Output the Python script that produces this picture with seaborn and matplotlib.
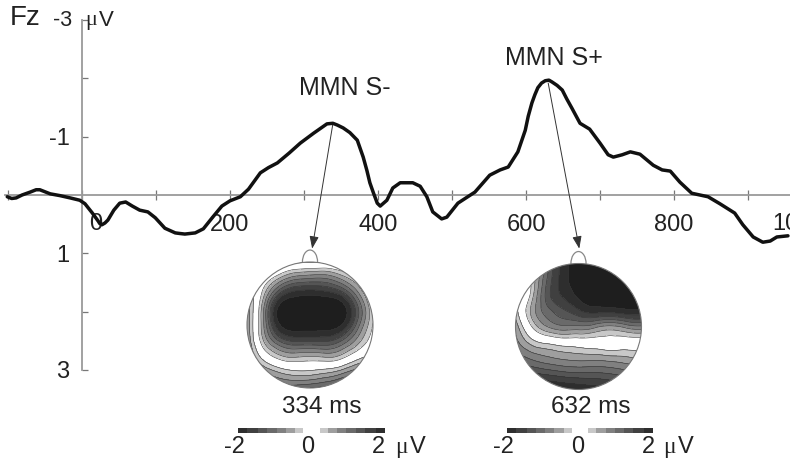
import numpy as np
import matplotlib
matplotlib.use("Agg")
import matplotlib.pyplot as plt
import matplotlib.tri as mtri
from matplotlib.colors import ListedColormap, BoundaryNorm
from matplotlib.patches import Circle, Ellipse
from matplotlib.transforms import Affine2D
import seaborn as sns

# ERP trace at Fz
time_ms = [-101,-95,-89,-81,-70,-62,-57,-43,-30,-16,-3,4,14,22,24,27,31,35,43,51,59,68,78,89,99,112,126,132,139,146,153,164,176,189,200,
           214,225,241,252,264,280,295,313,331,339,345,353,362,372,380,385,389,394,399,403,412,420,430,447,457,466,474,486,493,508,531,551,565,576,589,599,
           603,608,612,616,621,626,631,635,642,649,655,662,673,686,700,711,718,730,741,754,772,784,795,808,824,846,862,882,893,907,920,930,939,954]
amp_uv = [0.03,0.06,0.05,0,-0.05,-0.09,-0.09,-0.02,0.01,0.05,0.09,0.15,0.31,0.45,0.49,0.51,0.48,0.43,0.26,0.14,0.12,0.19,0.26,0.29,0.39,0.57,0.65,0.66,0.67,0.66,0.65,0.58,0.39,0.19,0.10,
          0.03,-0.10,-0.38,-0.47,-0.55,-0.72,-0.89,-1.06,-1.22,-1.23,-1.20,-1.15,-1.07,-0.94,-0.65,-0.42,-0.21,-0.03,0.14,0.19,0.09,-0.12,-0.21,-0.21,-0.15,0.03,0.29,0.41,0.38,0.14,-0.05,-0.34,-0.43,-0.48,-0.74,-1.11,
          -1.35,-1.58,-1.72,-1.84,-1.92,-1.96,-1.97,-1.94,-1.88,-1.80,-1.65,-1.49,-1.23,-1.13,-0.89,-0.69,-0.65,-0.69,-0.74,-0.70,-0.51,-0.43,-0.41,-0.22,-0.03,0.03,0.15,0.31,0.51,0.72,0.81,0.79,0.72,0.70]

x_ticks = [-100,0,100,200,300,400,500,600,700,800,900]
x_tick_labels = ["","","","200","","400","","600","","800",""]
y_ticks = [-3,-2,-1,1,2,3]
y_tick_labels = ["","","-1","1","","3"]

# Scalp maps: values in uV, rows front to back, columns left to right
grid_pos = [-1,-.75,-.5,-.25,0,.25,.5,.75,1]
map_334 = [[.6,.5,.4,.3,.25,.25,.25,.3,.3],
           [.5,.1,-.4,-.8,-.9,-.9,-.6,-.2,.2],
           [.5,-.3,-1.4,-1.9,-2.0,-1.9,-1.6,-.8,.05],
           [.6,-.6,-2.2,-2.6,-2.7,-2.7,-2.4,-1.3,-.2],
           [.6,-.6,-2.0,-2.4,-2.4,-2.4,-2.1,-1.1,-.2],
           [.7,-.4,-1.2,-1.5,-1.5,-1.5,-1.2,-.6,-.05],
           [.8,.1,-.35,-.5,-.45,-.5,-.35,.05,.3],
           [1,.7,.45,.3,.3,.4,.6,.9,1.0],
           [1.3,1.2,1.1,1.1,1.2,1.3,1.5,1.6,1.6]]
map_632 = [[.4,.1,-1.2,-1.9,-2.5,-2.7,-2.7,-2.7,-2.7],
           [.4,-.2,-1.2,-1.9,-2.4,-2.6,-2.7,-2.7,-2.7],
           [.4,-.3,-1.3,-1.8,-2.2,-2.4,-2.5,-2.6,-2.6],
           [.35,-.5,-1.1,-1.4,-1.7,-1.9,-1.9,-2.0,-2.0],
           [.6,-.2,-.7,-.9,-.9,-.8,-.65,-.8,-.9],
           [.8,.35,.15,.03,.0,-.03,-.05,-.02,-.02],
           [1.1,.9,.75,.65,.6,.6,.55,.5,.4],
           [1.6,1.5,1.4,1.3,1.25,1.25,1.2,1.1,1.0],
           [2.3,2.3,2.2,2.1,2.0,1.9,1.8,1.7,1.5]]
levels = [-5,-2.1,-1.75,-1.45,-1.2,-.95,-.7,-.45,-.22,.22,.45,.7,.95,1.2,1.45,1.75,2.1,5]
grays = ["#1e1e1e","#2e2e2e","#404040","#555555","#6a6a6a","#808080","#9e9e9e","#c8c8c8","#ffffff",
         "#c8c8c8","#9e9e9e","#808080","#6a6a6a","#555555","#404040","#2e2e2e","#1e1e1e"]

W, H = 790, 463
X0, PX_MS, Y0, PX_UV = 82, 0.74, 195, 58.3
INK = "#222222"
AXIS = "#9a9a9a"

sns.set_theme(style="white")
plt.rcParams["font.family"] = ["Liberation Sans", "DejaVu Sans"]

fig = plt.figure(figsize=(W / 100, H / 100), dpi=100, facecolor="white")
ax = fig.add_axes([0, 0, 1, 1], facecolor="none")
ax.set_xlim((0 - X0) / PX_MS, (W - X0) / PX_MS)
ax.set_ylim((H - Y0) / PX_UV, (0 - Y0) / PX_UV)

for side in ("top", "right"):
    ax.spines[side].set_visible(False)
ax.spines["left"].set_position(("data", 0))
ax.spines["bottom"].set_position(("data", 0))
ax.spines["left"].set_bounds(-3, 3)
ax.spines["bottom"].set_bounds((5 - X0) / PX_MS, (W - X0) / PX_MS)
for side in ("left", "bottom"):
    ax.spines[side].set_color(AXIS)
    ax.spines[side].set_linewidth(1.3)

ax.set_xticks(x_ticks, x_tick_labels)
ax.set_yticks(y_ticks, y_tick_labels)
ax.tick_params(axis="x", direction="inout", length=7, width=0.9, color="#777777",
               labelsize=17, labelcolor=INK, pad=10, bottom=True)
ax.tick_params(axis="y", direction="in", length=4, width=0.9, color="#777777",
               labelsize=17, labelcolor=INK, pad=9, left=True)

sns.lineplot(x=time_ms, y=amp_uv, color="#111111", linewidth=2.5, ax=ax, zorder=4, sort=False)
ax.lines[0].set_solid_joinstyle("round")
ax.set_xlabel("")
ax.set_ylabel("")

px = Affine2D().scale(1, -1).translate(0, H)


def label(x, y, s, size=17, ha="center", family=None, color=INK):
    kw = {"family": family} if family else {}
    ax.text(x, y, s, transform=px, fontsize=size, ha=ha, va="center", color=color, clip_on=False, **kw)


def micro_volt(x, y, size=16):
    label(x, y, "\u03bc", size=size, ha="left", family="Liberation Serif")
    label(x + size * 0.85, y - 1, "V", size=size, ha="left")


label(10, 18, "Fz", size=20, ha="left")
label(53, 21, "-3", size=15.5, ha="left")
micro_volt(85, 21)
label(96, 224, "0")
label(772, 224, "1000", ha="left")
label(345, 88, "MMN S-", size=18)
label(554, 58, "MMN S+", size=18)
label(322, 407, "334 ms", size=17.5)
label(591, 407, "632 ms", size=17.5)

for start, end in [((339, -1.22), (311, 0.92)), ((630, -1.92), (672, 0.92))]:
    ax.annotate("", xy=end, xytext=start, zorder=3,
                arrowprops=dict(arrowstyle="-|>,head_length=0.75,head_width=0.28", color="#333333",
                                lw=0.7, mutation_scale=10, shrinkA=0, shrinkB=0))

cmap = ListedColormap(grays)
norm = BoundaryNorm(levels, cmap.N)


def scalp(cx, cy, r, values):
    pad = 1.25
    a = fig.add_axes([(cx - pad * r) / W, 1 - (cy + pad * r) / H, 2 * pad * r / W, 2 * pad * r / H])
    a.set_xlim(-pad, pad)
    a.set_ylim(-pad, pad)
    a.axis("off")
    gx, gy = np.meshgrid(grid_pos, grid_pos[::-1])
    tri = mtri.Triangulation(gx.ravel(), gy.ravel())
    z = np.array(values, float).ravel()
    fine_tri, fine_z = mtri.UniformTriRefiner(tri).refine_field(z, mtri.CubicTriInterpolator(tri, z), subdiv=4)
    head = Circle((0, 0), 1, transform=a.transData, fc="none", ec="#777777", lw=0.8, zorder=5)
    a.add_patch(head)
    filled = a.tricontourf(fine_tri, fine_z, levels=levels, cmap=cmap, norm=norm)
    filled.set_clip_path(head)
    lines = a.tricontour(fine_tri, fine_z, levels=levels[1:-1], colors="#333333", linewidths=0.4,
                         linestyles="solid")
    lines.set_clip_path(head)
    a.add_patch(Ellipse((0, 1.0), 0.24, 0.38, fc="white", ec="#888888", lw=0.9, zorder=0))


def color_bar(x0, x1, y, h=5):
    a = fig.add_axes([x0 / W, 1 - (y + h / 2) / H, (x1 - x0) / W, h / H])
    edges = np.clip(levels, -2, 2)
    a.pcolormesh(edges, [0, 1], [np.arange(len(grays))], cmap=cmap, vmin=-0.5, vmax=len(grays) - 0.5)
    a.axis("off")


scalp(310, 325, 63, map_334)
scalp(578.5, 326.5, 63, map_632)
color_bar(238, 385, 430)
color_bar(507, 653, 430)

for lo, zero, hi, mu in [(234, 308, 378, 395), (503, 578, 648, 663)]:
    label(lo, 447, "-2")
    label(zero, 447, "0")
    label(hi, 447, "2")
    micro_volt(mu, 448, size=17)

fig.savefig("out.png", dpi=100, facecolor="white")
